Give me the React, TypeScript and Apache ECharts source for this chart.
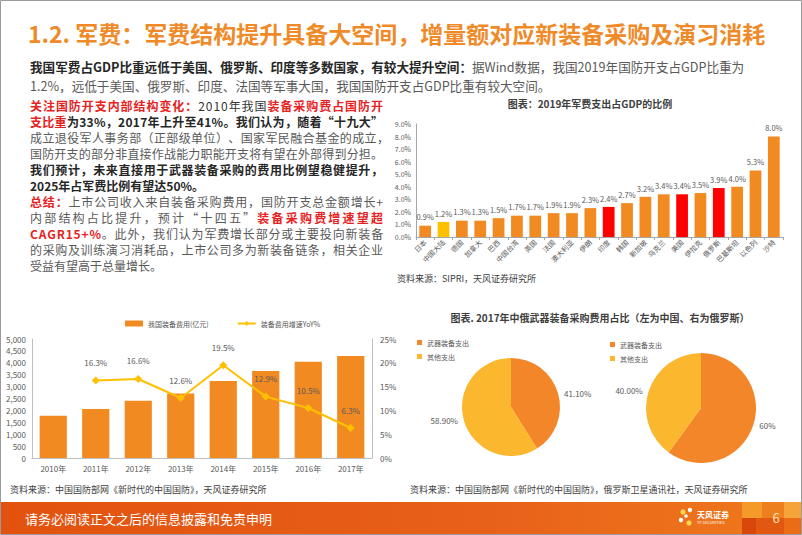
import React, { useEffect, useRef } from "react";
import * as echarts from "echarts";

const countries = ["日本", "中国大陆", "德国", "加拿大", "巴西", "中国台湾", "英国", "法国", "澳大利亚", "伊朗", "印度", "韩国", "新加坡", "乌克兰", "美国", "伊拉克", "俄罗斯", "巴基斯坦", "以色列", "沙特"];
const gdpShare = [0.9, 1.2, 1.3, 1.3, 1.5, 1.7, 1.7, 1.9, 1.9, 2.3, 2.4, 2.7, 3.2, 3.4, 3.4, 3.5, 3.9, 4.0, 5.3, 8.0];
const highlightYellow = ["中国大陆"];
const highlightRed = ["印度", "美国", "俄罗斯"];

const years = ["2010年", "2011年", "2012年", "2013年", "2014年", "2015年", "2016年", "2017年"];
const equipSpend = [1773.59, 2063.02, 2402.31, 2710.45, 3238.65, 3656.53, 4043.22, 4288.35];
const equipYoY = [null, 16.3, 16.6, 12.6, 19.5, 12.9, 10.5, 6.3];

const pieNames = ["武器装备支出", "其他支出"];
const chinaShare = [41.1, 58.9];
const chinaLabels = ["41.10%", "58.90%"];
const russiaShare = [60, 40];
const russiaLabels = ["60%", "40.00%"];

const FONT = "'Noto Sans CJK SC', 'Microsoft YaHei', sans-serif";
const ORANGE = "#F28A22";
const RED = "#E6231F";
const DARK = "#262626";
const GRAY = "#595959";

const STYLES: Record<string, { fill: string; bold: boolean }> = {
  r: { fill: RED, bold: true },
  d: { fill: "#333333", bold: false },
  b: { fill: DARK, bold: true },
  g: { fill: GRAY, bold: false },
};

let measureCtx: CanvasRenderingContext2D | null = null;
function measure(text: string, size: number, bold: boolean) {
  if (!measureCtx) measureCtx = document.createElement("canvas").getContext("2d");
  if (!measureCtx) return text.length * size;
  measureCtx.font = `${bold ? "bold " : ""}${size}px ${FONT}`;
  return measureCtx.measureText(text).width;
}

function richLine(x: number, y: number, parts: [string, string][], size = 12, justifyWidth = 0, lh = 14) {
  const rich: any = {};
  Object.keys(STYLES).forEach((k) => {
    rich[k] = {
      fontSize: size,
      lineHeight: lh,
      fontFamily: FONT,
      fill: STYLES[k].fill,
      fontWeight: STYLES[k].bold ? "bold" : "normal",
    };
  });
  let text = "";
  if (justifyWidth > 0) {
    let natural = 0;
    let count = 0;
    parts.forEach(([k, t]) => {
      natural += measure(t, size, STYLES[k].bold);
      count += Array.from(t).length;
    });
    const gap = count > 1 ? Math.max(0, (justifyWidth - natural) / (count - 1)) : 0;
    Object.keys(STYLES).forEach((k) => {
      rich[k + "j"] = { ...rich[k], padding: [0, gap, 0, 0] };
    });
    let idx = 0;
    parts.forEach(([k, t]) => {
      Array.from(t).forEach((c) => {
        idx++;
        text += `{${idx < count ? k + "j" : k}|${c}}`;
      });
    });
  } else {
    text = parts.map(([k, t]) => `{${k}|${t}}`).join("");
  }
  return { type: "text", x, y, style: { text, verticalAlign: "middle", rich } };
}

function plainText(x: number, y: number, text: string, size: number, fill: string, extra: any = {}) {
  return {
    type: "text",
    x,
    y,
    style: { text, fontSize: size, fill, fontFamily: FONT, verticalAlign: "middle", ...extra },
  };
}

export default function App() {
  const ref = useRef<HTMLDivElement>(null);
  useEffect(() => {
    if (!ref.current) return;
    const chart = echarts.init(ref.current, null, { renderer: "svg" });
    const pad = 16;
    const p1 = 105;
    const p2 = 201;
    const JW = 353;
    const graphic: any[] = [
      { type: "rect", shape: { x: 0.5, y: 0.5, width: 801, height: 534 }, style: { fill: "none", stroke: "#9a9a9a", lineWidth: 1 }, z: 100 },
      plainText(28, 33, "1.2. 军费：军费结构提升具备大空间，增量额对应新装备采购及演习消耗", 23, "#F08A28", { fontWeight: "bold" }),
      richLine(30, 66, [["b", "我国军费占GDP比重远低于美国、俄罗斯、印度等多数国家，有较大提升空间："], ["g", "据Wind数据，我国2019年国防开支占GDP比重为"]], 12.6, 0, 16),
      richLine(30, 85, [["g", "1.2%，远低于美国、俄罗斯、印度、法国等军事大国，我国国防开支占GDP比重有较大空间。"]], 12.6, 0, 16),
      richLine(30, p1, [["r", "关注国防开支内部结构变化："], ["d", "2010年我国"], ["r", "装备采购费占国防开"]], 12, JW),
      richLine(30, p1 + pad, [["r", "支比重"], ["b", "为33%，2017年上升至41%。我们认为，随着“十九大”"]], 12, JW),
      richLine(30, p1 + pad * 2, [["g", "成立退役军人事务部（正部级单位）、国家军民融合基金的成立，"]], 12, JW),
      richLine(30, p1 + pad * 3, [["g", "国防开支的部分非直接作战能力职能开支将有望在外部得到分担。"]], 12, JW),
      richLine(30, p1 + pad * 4, [["b", "我们预计，未来直接用于武器装备采购的费用比例望稳健提升，"]], 12, JW),
      richLine(30, p1 + pad * 5, [["b", "2025年占军费比例有望达50%。"]], 12),
      richLine(30, p2, [["r", "总结："], ["g", "上市公司收入来自装备采购费用，国防开支总金额增长+"]], 12, JW),
      richLine(30, p2 + pad, [["g", "内部结构占比提升，预计“十四五”"], ["r", "装备采购费增速望超"]], 12, JW),
      richLine(30, p2 + pad * 2, [["r", "CAGR15+%"], ["g", "。此外，我们认为军费增长部分或主要投向新装备"]], 12, JW),
      richLine(30, p2 + pad * 3, [["g", "的采购及训练演习消耗品，上市公司多为新装备链条，相关企业"]], 12, JW),
      richLine(30, p2 + pad * 4, [["g", "受益有望高于总量增长。"]], 12),
      plainText(590, 103, "图表：2019年军费支出占GDP的比例", 10, "#404040", { fontWeight: "bold", align: "center" }),
      plainText(397, 278, "资料来源：SIPRI，天风证券研究所", 9, "#404040"),
      plainText(600, 317, "图表. 2017年中俄武器装备采购费用占比（左为中国、右为俄罗斯）", 10, "#404040", { fontWeight: "bold", align: "center" }),
      plainText(10, 489, "资料来源：中国国防部网《新时代的中国国防》，天风证券研究所", 9, "#404040"),
      plainText(410, 489, "资料来源：中国国防部网《新时代的中国国防》，俄罗斯卫星通讯社，天风证券研究所", 9, "#404040"),
      {
        type: "rect",
        shape: { x: 0, y: 502, width: 802, height: 32 },
        style: {
          fill: new echarts.graphic.LinearGradient(0, 0, 1, 0, [
            { offset: 0, color: "#E2520E" },
            { offset: 0.6, color: "#E8601A" },
            { offset: 1, color: "#EF7A1C" },
          ]),
        },
      },
      { type: "rect", shape: { x: 742, y: 502, width: 20, height: 16 }, style: { fill: "#F39A2A" } },
      { type: "rect", shape: { x: 762, y: 502, width: 22, height: 16 }, style: { fill: "#EE7F1E" } },
      { type: "rect", shape: { x: 784, y: 502, width: 18, height: 16 }, style: { fill: "#F5A43A" } },
      { type: "rect", shape: { x: 742, y: 518, width: 14, height: 16 }, style: { fill: "#D9470C" } },
      { type: "rect", shape: { x: 756, y: 518, width: 28, height: 16 }, style: { fill: "#E25810" } },
      { type: "rect", shape: { x: 784, y: 518, width: 18, height: 16 }, style: { fill: "#EA6C16" } },
      plainText(25, 518, "请务必阅读正文之后的信息披露和免责申明", 13, "#ffffff"),
      plainText(776, 517, "6", 13, "#FFE2B0", { align: "center" }),
      { type: "circle", shape: { cx: 683, cy: 512, r: 2.6 }, style: { fill: "#FFD84A" } },
      { type: "circle", shape: { cx: 690, cy: 510, r: 2.2 }, style: { fill: "#ffffff" } },
      { type: "circle", shape: { cx: 681, cy: 520, r: 2.2 }, style: { fill: "#ffffff" } },
      { type: "circle", shape: { cx: 689, cy: 523, r: 2.6 }, style: { fill: "#FFD84A" } },
      { type: "circle", shape: { cx: 686, cy: 516, r: 1.8 }, style: { fill: "#ffffff" } },
      plainText(697, 514, "天风证券", 8, "#ffffff", { fontWeight: "bold" }),
      plainText(697, 522, "TF SECURITIES", 4, "#ffffff"),
    ];

    const barColor = (name: string) =>
      highlightYellow.includes(name) ? "#FFC000" : highlightRed.includes(name) ? "#FF0000" : ORANGE;

    const pieLabel = (labels: string[]) => (p: any) => labels[p.dataIndex];

    const pieCommon = {
      type: "pie",
      startAngle: 90,
      clockwise: true,
      avoidLabelOverlap: false,
      color: ["#F4862A", "#FBB72E"],
      labelLine: { show: false, length: 1, length2: 0 },
      labelLayout: { hideOverlap: false },
    };

    const option: any = {
      animation: false,
      textStyle: { fontFamily: FONT },
      graphic,
      legend: [
        {
          left: 120,
          top: 315,
          itemWidth: 18,
          itemHeight: 6,
          itemGap: 28,
          textStyle: { fontSize: 7, color: GRAY },
          data: [
            { name: "我国装备费用(亿元)", icon: "rect" },
            { name: "装备费用增速YoY%" },
          ],
        },
        {
          left: 412,
          top: 334,
          orient: "vertical",
          icon: "rect",
          itemWidth: 5,
          itemHeight: 5,
          itemGap: 7,
          textStyle: { fontSize: 7, color: GRAY },
          data: pieNames,
        },
        {
          left: 605,
          top: 336,
          orient: "vertical",
          icon: "rect",
          itemWidth: 5,
          itemHeight: 5,
          itemGap: 7,
          textStyle: { fontSize: 7, color: GRAY },
          data: pieNames,
        },
      ],
      grid: [
        { left: 416, top: 124, width: 367, height: 113 },
        { left: 32, top: 339, width: 340, height: 119 },
      ],
      xAxis: [
        {
          type: "category",
          gridIndex: 0,
          data: countries,
          axisLine: { lineStyle: { color: "#A6A6A6" } },
          axisTick: { show: true, length: 3, lineStyle: { color: "#A6A6A6" } },
          axisLabel: { rotate: 45, interval: 0, fontSize: 7, color: GRAY, margin: 4 },
        },
        {
          type: "category",
          gridIndex: 1,
          data: years,
          axisLine: { lineStyle: { color: "#BFBFBF" } },
          axisTick: { show: false },
          axisLabel: { fontSize: 8, color: GRAY, margin: 6 },
        },
      ],
      yAxis: [
        {
          type: "value",
          gridIndex: 0,
          min: 0,
          max: 9,
          interval: 1,
          axisLine: { show: true, lineStyle: { color: "#A6A6A6" } },
          axisTick: { show: false },
          splitLine: { show: false },
          axisLabel: { fontSize: 7, color: GRAY, margin: 5, formatter: (v: number) => v.toFixed(1) + "%" },
        },
        {
          type: "value",
          gridIndex: 1,
          min: 0,
          max: 5000,
          interval: 500,
          axisLine: { show: true, lineStyle: { color: "#BFBFBF" } },
          axisTick: { show: false },
          splitLine: { show: false },
          axisLabel: { fontSize: 8, color: GRAY, margin: 6, formatter: (v: number) => v.toLocaleString("en-US") },
        },
        {
          type: "value",
          gridIndex: 1,
          position: "right",
          min: 0,
          max: 25,
          interval: 5,
          axisLine: { show: true, lineStyle: { color: "#BFBFBF" } },
          axisTick: { show: false },
          splitLine: { show: false },
          axisLabel: { fontSize: 8, color: GRAY, margin: 8, formatter: (v: number) => v + "%" },
        },
      ],
      series: [
        {
          type: "bar",
          xAxisIndex: 0,
          yAxisIndex: 0,
          barCategoryGap: "36%",
          data: gdpShare.map((v, i) => ({ value: v, itemStyle: { color: barColor(countries[i]) } })),
          label: {
            show: true,
            position: "top",
            distance: 5,
            fontSize: 7.5,
            color: GRAY,
            formatter: (p: any) => Number(p.value).toFixed(1) + "%",
          },
        },
        {
          name: "我国装备费用(亿元)",
          type: "bar",
          xAxisIndex: 1,
          yAxisIndex: 1,
          barCategoryGap: "36%",
          itemStyle: { color: ORANGE },
          data: equipSpend,
        },
        {
          name: "装备费用增速YoY%",
          type: "line",
          xAxisIndex: 1,
          yAxisIndex: 2,
          data: equipYoY,
          symbol: "diamond",
          symbolSize: 8,
          itemStyle: { color: "#FFC000" },
          lineStyle: { color: "#FFC000", width: 2 },
          label: {
            show: true,
            position: "top",
            distance: 10,
            fontSize: 8,
            color: GRAY,
            formatter: (p: any) => Number(p.value).toFixed(1) + "%",
          },
        },
        {
          ...pieCommon,
          center: [511, 407],
          radius: 49,
          data: pieNames.map((n, i) => ({ name: n, value: chinaShare[i] })),
          label: { show: true, position: "outside", fontSize: 8, color: GRAY, formatter: pieLabel(chinaLabels) },
        },
        {
          ...pieCommon,
          center: [701, 408],
          radius: 55,
          data: pieNames.map((n, i) => ({ name: n, value: russiaShare[i] })),
          label: { show: true, position: "outside", fontSize: 8, color: GRAY, formatter: pieLabel(russiaLabels) },
        },
      ],
    };
    chart.setOption(option);
    return () => chart.dispose();
  }, []);
  return (
    <div
      ref={ref}
      style={{ position: "absolute", left: 0, top: 0, width: 802, height: 535, background: "#ffffff" }}
    />
  );
}
